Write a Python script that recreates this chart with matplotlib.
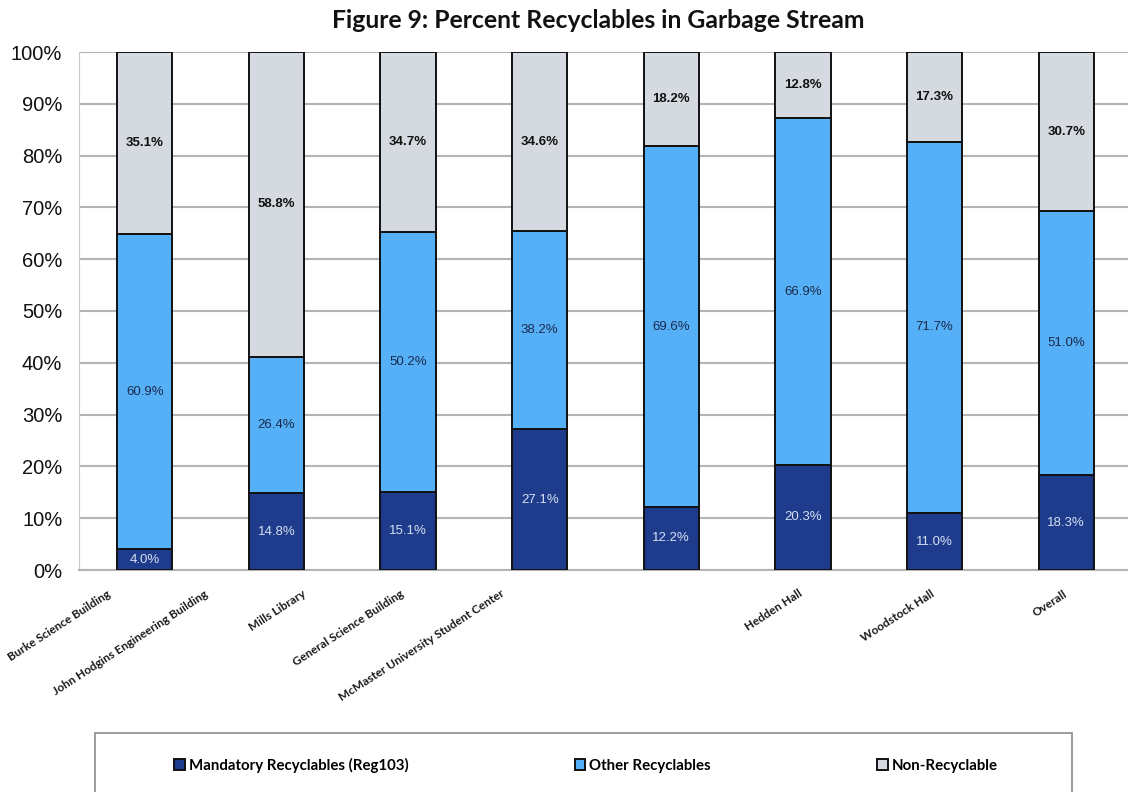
import matplotlib
matplotlib.use("Agg")
import matplotlib.pyplot as plt
import matplotlib.transforms as mtransforms
from matplotlib.patches import Rectangle
import numpy as np

categories = ["Burke Science Building", "John Hodgins Engineering Building", "Mills Library",
              "General Science Building", "McMaster University Student Center", "Hedden Hall",
              "Woodstock Hall", "Overall"]
mandatory = [4.0, 14.8, 15.1, 27.1, 12.2, 20.3, 11.0, 18.3]
other = [60.9, 26.4, 50.2, 38.2, 69.6, 66.9, 71.7, 51.0]
non_recyclable = [35.1, 58.8, 34.7, 34.6, 18.2, 12.8, 17.3, 30.7]
series_names = ["Mandatory Recyclables (Reg103)", "Other Recyclables", "Non-Recyclable"]
yticks = [0, 10, 20, 30, 40, 50, 60, 70, 80, 90, 100]

W, H = 1128, 792
fig = plt.figure(figsize=(W / 100, H / 100), dpi=100)
ax = fig.add_axes([79 / W, 1 - 570 / H, 1053 / W, 518 / H])

x = np.arange(len(categories))
m = np.array(mandatory)
o = np.array(other)
n = np.array(non_recyclable)
tot = m + o + n
mp, op, nrp = m / tot * 100, o / tot * 100, n / tot * 100

colors = ["#1f3c8c", "#55b0f8", "#d5dae1"]
bw = 0.42
b1 = ax.bar(x, mp, bw, color=colors[0], edgecolor="#111111", linewidth=1.4, label=series_names[0], zorder=3)
b2 = ax.bar(x, op, bw, bottom=mp, color=colors[1], edgecolor="#111111", linewidth=1.4, label=series_names[1], zorder=3)
b3 = ax.bar(x, nrp, bw, bottom=mp + op, color=colors[2], edgecolor="#111111", linewidth=1.4, label=series_names[2], zorder=3)

lab_font = dict(family="Liberation Sans", fontsize=9.5, ha="center", va="center", zorder=4)
for i in range(len(categories)):
    ax.text(x[i], mp[i] / 2, f"{mandatory[i]:.1f}%", color="#d4e0f4", **lab_font)
    ax.text(x[i], mp[i] + op[i] / 2, f"{other[i]:.1f}%", color="#1c2a4a", **lab_font)
    ax.text(x[i], mp[i] + op[i] + nrp[i] / 2, f"{non_recyclable[i]:.1f}%", color="#111111",
            fontweight="bold", **lab_font)

ax.set_xlim(-0.5, len(categories) - 0.5)
ax.set_ylim(0, 100)
ax.set_yticks(yticks)
ax.set_yticklabels([f"{v}%" for v in yticks], family="Liberation Sans", fontsize=14.5, color="#111111")
ax.tick_params(axis="y", length=0, pad=12)
ax.yaxis.grid(True, color="#b4b4b4", linewidth=1.5, zorder=0)
ax.set_axisbelow(True)
for s in ["top", "right"]:
    ax.spines[s].set_visible(False)
ax.spines["left"].set_color("#c8c8c8")
ax.spines["bottom"].set_color("#b4b4b4")
ax.spines["bottom"].set_linewidth(1.5)

ax.set_xticks(x)
ax.set_xticklabels(categories, rotation=33, ha="right", va="top", rotation_mode="anchor",
                   family="Lato", fontweight="bold", fontsize=8.5, color="#1a1a1a")
ax.tick_params(axis="x", length=0, pad=13)
dx_px = [-38, -73, -106, -140, -171, -5, -4, -3]
for lbl, d in zip(ax.get_xticklabels(), dx_px):
    off = mtransforms.ScaledTranslation(d / 100, 0, fig.dpi_scale_trans)
    lbl.set_transform(lbl.get_transform() + off)

fig.text(598 / W, 1 - 21 / H, "Figure 9: Percent Recyclables in Garbage Stream", ha="center", va="center",
         family="Lato", fontweight="bold", fontsize=17.8, color="#111111")

fig.patches.append(Rectangle((95 / W, -10 / H), 977 / W, (792 - 733 + 10) / H, transform=fig.transFigure,
                             facecolor="white", edgecolor="#8a8a8a", linewidth=1.2, zorder=0))
leg = fig.legend(handles=[b1, b2, b3], labels=series_names, loc="center left",
                 bbox_to_anchor=(174 / W, 1 - 765 / H), ncol=3, frameon=False,
                 prop=dict(family="Lato", weight="bold", size=10.8),
                 handlelength=0.72, handleheight=0.72, handletextpad=0.25, columnspacing=11.1,
                 borderaxespad=0, borderpad=0)

fig.savefig("out.png", dpi=100)
